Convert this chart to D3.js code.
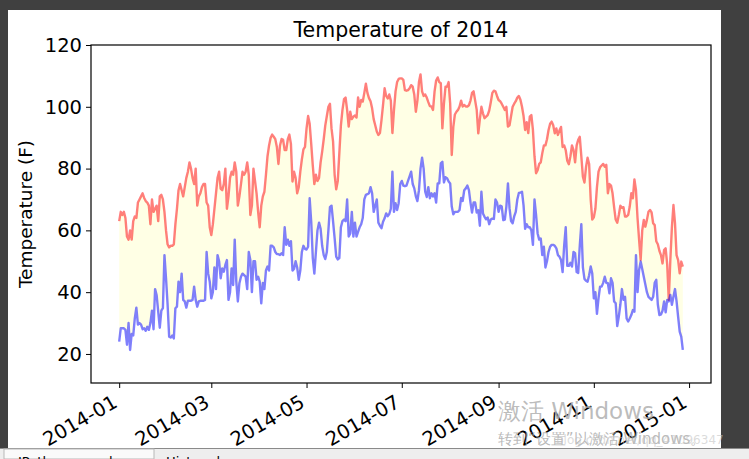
<!DOCTYPE html>
<html><head><meta charset="utf-8">
<script src="https://cdn.jsdelivr.net/npm/d3@7/dist/d3.min.js"></script>
<style>
html,body{margin:0;padding:0;background:#404040;}
svg{display:block;}
text{font-family:"DejaVu Sans",sans-serif;}
</style></head><body>
<svg id="c" width="749" height="459"></svg>
<script>
const title = "Temperature of 2014";
const yLabel = "Temperature (F)";
const startDate = "2014-01-01";
const yTicks = [20, 40, 60, 80, 100, 120];
const xTickMonths = ["2014-01","2014-03","2014-05","2014-07","2014-09","2014-11","2015-01"];

const highs = [
63,66,65,66,64,58,57,60,57,63,
64.5,64,69,70,71,72,70.5,69.5,69,68,
62,70,66,67,68,63,71,71.5,70,66,
60,55.5,54.5,55,55,55.5,62,67,73,75,
73,71,74,77,79,82,80,77,75,80,
68,71,72,74,75,75,69,68,61,58.5,
62,67,72,77,79,73.5,73,75,80,67,
71,77,79,78,82,79,68,71,75,79,
78,79,82,78,65,68,80,76,72,66,
61,68,71,72.5,78,84,87.5,90,91,90.3,
89.5,87,81.5,87.5,89.6,89.3,86,86,89.5,91,
88,75.8,79,77,72,74,79,83,86.2,87,
93,97,94.5,88,81,75,78,76,77,82,
85.5,89.5,94,97,100,101,93,88.7,78,73.3,
76,85,94,99,102.5,103,99,93.6,98.4,96,
96.8,97.2,96.5,103,100,102.2,101.7,104.5,107.5,104.5,
102.8,101.8,99.5,96,94,92,90.9,91.5,95.7,100.6,
106,103.5,102.7,104,102,91.5,99,105,108,109,
109.2,109.2,108.7,105.4,105.2,105.4,106,107,106.5,104,
98.4,102,108,110.5,105,103.5,104,103,101.5,100.2,
100.1,99,105,108.5,109.5,108,107.6,93,101,106.5,
106.5,108,101,84.4,93.5,97.5,98.4,99,100.1,102,
100.1,100.6,100.1,100.1,100.5,102,104.5,105,102,99,
91.4,96,100,97.9,96.3,96.8,97.3,98.8,101.5,104.5,
105.2,105,103.5,102.2,101.8,101,100,99,100,93.6,
94,97,100,101,101.8,103,103.5,102.3,100,97,
92.5,95,91.5,96.8,97.3,92.5,84,78.5,79.5,81.5,
82,85,87.5,87.5,89.5,92.5,94.5,95.2,94,91.4,
93,90.9,92.3,93.5,87,87.5,86,82.5,81.4,84,
87.5,86,82,87.5,89.3,90.3,84,77.4,75.5,80.5,
83.5,81.5,70,63.5,64.2,67,74,79,80.4,81,
81.5,80.6,81.2,72,75,74.5,72,67.5,63.5,62.5,
65,68,67.3,67.5,64.5,64.5,65,67.7,72,70.4,
76.5,73,64,57,50.4,60,63.4,61.2,63.4,66,
66.6,65.8,62.3,61.7,56.5,55.5,53.4,52,49.3,53.6,
54.2,49,37.5,50.4,61,68.2,62.3,52,50.4,46.1,49.9,48.3
];

const lows = [
24,28.3,28.3,28.3,27.8,23,30,21.3,26.5,26,
31.5,35,29.5,30,29.5,28,28.3,27.5,28.8,27.8,
30,34,28,41,39,33.7,28.5,34,34.8,52,
44.5,36,25.6,25.3,26,25,34.8,35.3,43.4,40,
46,37.5,37,35,37.2,37.2,37.2,37.5,41.8,37.5,
35.3,37,37.2,37.2,37.2,37.5,53,46,43.4,38,
40,48,41,52,50,44.5,47.7,46.6,48.8,50.4,
37.5,40,47.7,42.3,57,43.4,37,42.9,45,46,
45.5,45,41,53,50.4,40,50,50,44,45,
43.4,36.4,43,41,47,48.3,47,55,55,54.5,
53,52.3,52.3,52,52.6,52,61,55.3,57,55,
56.5,47,47.5,50,48,44,47,53,55,54,
53.8,54.7,70.4,62.8,51,46,53,60,62.5,60.5,
55,52,50.7,53,60,67.5,68,62.8,57.4,51.5,
50.6,51,61,63,63.5,63,70,58,59,66,
58,62.5,58,59.5,61,62,64,70,71.5,71.7,
72,74,72,66,68,70,62.5,61.5,60.7,62.8,
63.9,65.5,64.6,65.3,67,79,66,68.8,66.6,68.8,
75,76,74.5,74.3,74.5,76,77.5,79,75,73.6,
71,69.5,73,80,83.5,80,72.5,70.8,74,70.4,
72,71,72,69,75.2,75.2,81.7,82.2,75.5,77.2,
76.9,75.8,75.2,67.7,65.2,66,66,66,66.6,70.5,
69.5,73,73.6,74.5,73,69,65.8,69,69,65.8,
66.5,61.5,72.5,65.5,64.4,63.6,64.2,62,63.5,63.8,
63.7,70,69,66,68,67.8,63.3,63.5,67.7,75.2,
67.2,63,62.3,64.5,66,70,72.1,72.2,72.5,68,
60.5,62,61,61,60,55.3,70,65,59,57,
57.4,52,54.7,48,50,53,54.7,55.3,55.3,55,
54.2,52,51.5,50.4,46.5,55,61,48.5,48.5,49.5,
48.3,53,52.6,46.5,46.2,55,62,48,44.3,43.7,
43.4,45.5,48.3,46,38,40,33,38,41.8,41.8,
43,45,43,42.9,39.6,44.5,43,37,36.4,29,
32.1,36,41,37.5,38.5,31.5,30.5,31.5,32.6,34.2,
33.7,52,40,47.2,49.9,47.5,45,42.5,40,38.5,
38,37.5,38.5,43,44,36,32.6,32.8,34,37,
33.5,37.5,37,39.1,35.9,38.5,41,37,32,27.2,25.6,21.3
];

const W = 749, H = 459;
const svg = d3.select("#c");
const parse = d3.utcParse("%Y-%m-%d");
const pm = d3.utcParse("%Y-%m");
const t0 = parse(startDate);
const dates = highs.map((_, i) => d3.utcDay.offset(t0, i));
const rows = dates.map((d, i) => ({date: d, hi: highs[i], lo: lows[i]}));

svg.append("rect").attr("x", 0).attr("y", 0).attr("width", W).attr("height", H).attr("fill", "#404040");
svg.append("rect").attr("x", 8).attr("y", 10).attr("width", 713).attr("height", 438).attr("fill", "#ffffff");

const m = {l: 91, t: 45, r: 711, b: 383};
const first = dates[0], last = dates[dates.length - 1];
const span = last - first;
const x = d3.scaleUtc().domain([new Date(+first - 0.05 * span), new Date(+last + 0.05 * span)]).range([m.l, m.r]);
const y = d3.scaleLinear().domain([10.6, 120]).range([m.b, m.t]);

const g = svg.append("g");
const area = d3.area().x(d => x(d.date)).y0(d => y(d.lo)).y1(d => y(d.hi));
g.append("path").datum(rows).attr("d", area).attr("fill", "#ffff00").attr("fill-opacity", 0.1);
const lineHi = d3.line().x(d => x(d.date)).y(d => y(d.hi));
const lineLo = d3.line().x(d => x(d.date)).y(d => y(d.lo));
g.append("path").datum(rows).attr("d", lineHi).attr("fill", "none").attr("stroke", "#ff0000").attr("stroke-opacity", 0.5).attr("stroke-width", 2.4).attr("stroke-linejoin", "round");
g.append("path").datum(rows).attr("d", lineLo).attr("fill", "none").attr("stroke", "#0000ff").attr("stroke-opacity", 0.5).attr("stroke-width", 2.4).attr("stroke-linejoin", "round");

svg.append("rect").attr("x", m.l).attr("y", m.t).attr("width", m.r - m.l).attr("height", m.b - m.t)
  .attr("fill", "none").attr("stroke", "#000").attr("stroke-width", 1.2);

const yAxis = d3.axisLeft(y).tickValues(yTicks).tickSize(5).tickPadding(4).tickFormat(d3.format("d"));
const ya = svg.append("g").attr("transform", `translate(${m.l},0)`).call(yAxis);
ya.select(".domain").remove();
ya.selectAll("text").attr("font-size", 19.5).attr("font-family", "DejaVu Sans").attr("fill", "#000");
ya.selectAll("line").attr("stroke", "#000");

const xTicks = xTickMonths.map(s => pm(s));
const xAxis = d3.axisBottom(x).tickValues(xTicks).tickSize(5).tickFormat(d3.utcFormat("%Y-%m"));
const xa = svg.append("g").attr("transform", `translate(0,${m.b})`).call(xAxis);
xa.select(".domain").remove();
xa.selectAll("line").attr("stroke", "#000");
xa.selectAll("text")
  .attr("font-size", 19.5).attr("font-family", "DejaVu Sans").attr("fill", "#000")
  .attr("text-anchor", "end").attr("dy", null).attr("y", 23).attr("x", -1)
  .attr("transform", "rotate(-30,-1,23)");

svg.append("text").attr("x", (m.l + m.r) / 2).attr("y", 37).attr("text-anchor", "middle")
  .attr("font-size", 20.5).attr("fill", "#000").text(title);
svg.append("text").attr("transform", `translate(32,${(m.t + m.b) / 2}) rotate(-90)`).attr("text-anchor", "middle")
  .attr("font-size", 18.5).attr("fill", "#000").text(yLabel);

// Windows activation watermark (part of the screenshot)
svg.append("text").attr("x", 498).attr("y", 419).attr("font-family", "Noto Sans CJK SC").attr("font-size", 23)
  .attr("fill", "#b0b0b0").attr("fill-opacity", 0.85).text("激活 Windows");
svg.append("text").attr("x", 498).attr("y", 444).attr("font-family", "Noto Sans CJK SC").attr("font-size", 15)
  .attr("fill", "#a8a8a8").attr("fill-opacity", 0.8).text("转到“设置”以激活 Windows。");
svg.append("text").attr("x", 556).attr("y", 444).attr("font-family", "DejaVu Sans").attr("font-size", 12)
  .attr("fill", "#c4c4c4").attr("fill-opacity", 0.6).text("blog.csdn.net/qq_41096347");

// bottom tab strip
svg.append("rect").attr("x", 0).attr("y", 448).attr("width", W).attr("height", 11).attr("fill", "#eeeeee");
svg.append("line").attr("x1", 0).attr("x2", W).attr("y1", 448.5).attr("y2", 448.5).attr("stroke", "#8a8a8a");
svg.append("rect").attr("x", 4).attr("y", 449).attr("width", 150).attr("height", 10).attr("fill", "#fafafa").attr("stroke", "#b8b8b8");
svg.append("text").attr("x", 18).attr("y", 466).attr("font-size", 13).attr("fill", "#000").text("IPython console");
svg.append("text").attr("x", 166).attr("y", 466).attr("font-size", 13).attr("fill", "#000").text("History log");
</script>
</body></html>
